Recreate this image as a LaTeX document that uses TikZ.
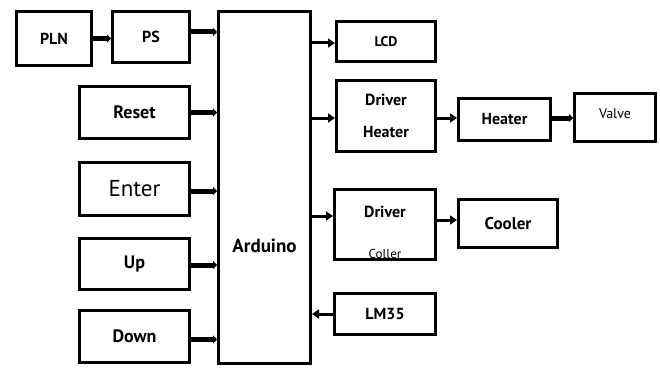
\documentclass[tikz,border=0pt]{standalone}
\usepackage{fontspec}
\setmainfont{PT Sans}
\usetikzlibrary{arrows.meta}
\begin{document}
\begin{tikzpicture}[x=1pt,y=-1pt,
  blk/.style={draw, line width=3pt, inner sep=0pt, align=center, font=\bfseries\fontsize{17}{21}\selectfont},
  txt/.style={inner sep=0pt},
  inarr/.style={line width=5pt, -{Triangle[length=4pt,width=8pt]}},
  outarr/.style={line width=3pt, -{Triangle[length=7pt,width=9pt]}}]
\useasboundingbox (0,0) rectangle (660,369);
% left column
\node[blk, minimum width=75pt, minimum height=54pt, font=\bfseries\fontsize{16}{19}\selectfont] (pln) at (54,38.5) {PLN};
\node[blk, minimum width=77pt, minimum height=51pt, font=\bfseries\fontsize{16}{19}\selectfont] (ps) at (151,37) {PS};
\node[blk, minimum width=110pt, minimum height=52pt, font=\bfseries\fontsize{18}{21}\selectfont] (reset) at (134.5,112.5) {Reset};
\node[blk, minimum width=110pt, minimum height=53pt, font=\fontsize{23}{27}\selectfont] (enter) at (134.5,189) {Enter};
\node[blk, minimum width=110pt, minimum height=51pt, font=\bfseries\fontsize{18}{21}\selectfont] (up) at (134.5,264) {Up};
\node[blk, minimum width=110pt, minimum height=52pt, font=\bfseries\fontsize{18}{21}\selectfont] (down) at (134.5,336.5) {Down};
% arduino
\node[blk, minimum width=92pt, minimum height=352pt] (ard) at (264.5,187.5) {};
\node[txt, font=\bfseries\fontsize{19}{23}\selectfont] (ardtxt) at (264.5,246) {Arduino};
% right column
\node[blk, minimum width=99pt, minimum height=40pt, font=\bfseries\fontsize{14}{17}\selectfont] (lcd) at (386,41.5) {LCD};
\node[blk, minimum width=99pt, minimum height=71pt, font=\bfseries\fontsize{16}{32}\selectfont] (drvh) at (386,116) {Driver\\Heater};
\node[blk, minimum width=92pt, minimum height=42pt, font=\bfseries\fontsize{16}{19}\selectfont] (heater) at (504.5,119.5) {Heater};
\node[blk, minimum width=81pt, minimum height=48pt] (valve) at (615,117.5) {};
\node[txt, font=\fontsize{14}{17}\selectfont] (valvetxt) at (615,114) {Valve};
\node[blk, minimum width=101pt, minimum height=70pt] (drvc) at (385,224.5) {};
\node[txt, font=\bfseries\fontsize{16}{19}\selectfont] (drvctxt) at (385,212) {Driver};
\node[txt, font=\fontsize{13}{16}\selectfont] (collertxt) at (385,254) {Coller};
\node[blk, minimum width=99pt, minimum height=48pt, font=\bfseries\fontsize{17}{20}\selectfont] (cooler) at (508,223.5) {Cooler};
\node[blk, minimum width=101pt, minimum height=41pt, font=\bfseries\fontsize{16}{19}\selectfont] (lm35) at (385,314) {LM35};
% connectors left
\draw[inarr] (pln.east) -- (pln.east -| ps.west);
\draw[inarr] ([yshift=5pt]ps.east) -- ([yshift=5pt]ps.east -| ard.west);
\draw[inarr] (reset.east) -- (reset.east -| ard.west);
\draw[inarr] ([yshift=-2pt]enter.east) -- ([yshift=-2pt]enter.east -| ard.west);
\draw[inarr] ([yshift=-1pt]up.east) -- ([yshift=-1pt]up.east -| ard.west);
\draw[inarr] ([yshift=-3pt]down.east) -- ([yshift=-3pt]down.east -| ard.west);
% connectors right
\draw[outarr] ([yshift=-1.5pt]lcd.west -| ard.east) -- ([yshift=-1.5pt]lcd.west);
\draw[outarr] ([yshift=-2pt]drvh.west -| ard.east) -- ([yshift=-2pt]drvh.west);
\draw[outarr] ([yshift=8.5pt]drvc.west -| ard.east) -- ([yshift=8.5pt]drvc.west);
\draw[outarr] (lm35.west) -- (lm35.west -| ard.east);
\draw[outarr] ([yshift=-2pt]drvh.east) -- ([yshift=-2pt]drvh.east -| heater.west);
\draw[inarr] ([yshift=1.5pt]heater.east) -- ([yshift=1.5pt]heater.east -| valve.west);
\draw[outarr] ([yshift=4.5pt]drvc.east) -- ([yshift=4.5pt]drvc.east -| cooler.west);
\end{tikzpicture}
\end{document}
